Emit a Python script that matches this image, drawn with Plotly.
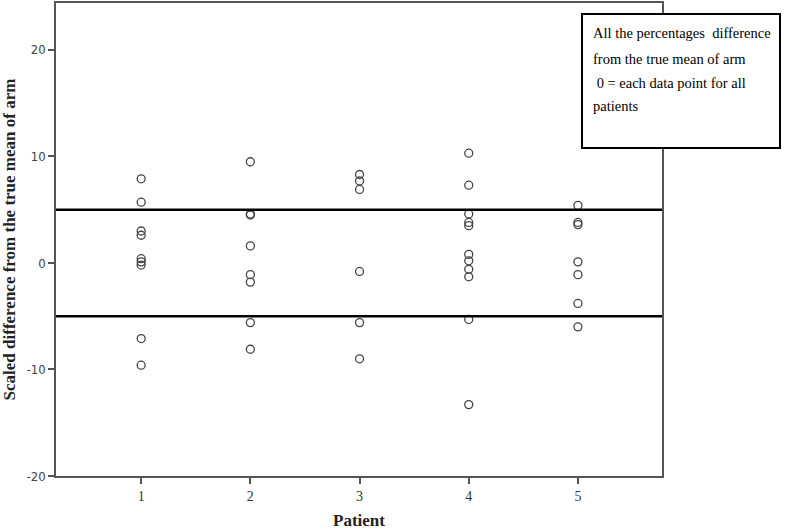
import plotly.graph_objects as go

patients = [1, 2, 3, 4, 5]
p1 = [7.9, 5.7, 3.0, 2.6, 0.4, 0.1, -0.2, -7.1, -9.6]
p2 = [9.5, 4.6, 4.5, 1.6, -1.1, -1.8, -5.6, -8.1]
p3 = [8.3, 7.7, 6.9, -0.8, -5.6, -9.0]
p4 = [10.3, 7.3, 4.6, 3.8, 3.5, 0.8, 0.2, -0.6, -1.3, -5.3, -13.3]
p5 = [5.4, 3.8, 3.6, 0.1, -1.1, -3.8, -6.0]
limits = [5, -5]
y_ticks = [-20, -10, 0, 10, 20]
y_tick_labels = ["-20", "-10", "0", "10", "20"]
note_lines = ["All the percentages  difference",
              "from the true mean of arm",
              "\u00a00 = each data point for all",
              "patients"]

series = [p1, p2, p3, p4, p5]
xs, ys = [], []
for pat, vals in zip(patients, series):
    xs += [pat] * len(vals)
    ys += vals

fig = go.Figure()
fig.add_trace(go.Scatter(
    x=xs, y=ys, mode="markers",
    marker=dict(symbol="circle-open", size=8, color="#444444", line=dict(width=1.3)),
    showlegend=False, hoverinfo="skip"))

for v in limits:
    fig.add_shape(type="line", xref="paper", x0=0, x1=1, yref="y", y0=v, y1=v,
                  line=dict(color="black", width=2.5))

axis_common = dict(showgrid=False, zeroline=False, showline=True, mirror=True,
                   linecolor="#555555", linewidth=1.5, ticks="outside",
                   ticklen=6, tickcolor="#555555", tickwidth=1.5, automargin=False)

fig.update_xaxes(range=[0.22, 5.77], tickvals=patients, **axis_common,
                 tickfont=dict(family="Liberation Serif", size=14, color="#333333"),
                 title=dict(text="<b>Patient</b>", standoff=12,
                            font=dict(family="Liberation Serif", size=17, color="#222222")))
fig.update_yaxes(range=[-20, 24.4], tickvals=y_ticks, ticktext=y_tick_labels, **axis_common,
                 tickfont=dict(family="DejaVu Sans Condensed", size=13, color="#444444"),
                 title=dict(text="<b>Scaled difference from the true mean of arm</b>", standoff=8,
                            font=dict(family="Liberation Serif", size=17, color="#222222")))

# Note box (pixel positions converted to paper coords of a 56..662 x 3..476 plot area)
def px_x(p):
    return (p - 56) / 606.0

def px_y(p):
    return (476 - p) / 473.0

fig.add_shape(type="rect", xref="paper", yref="paper",
              x0=px_x(582), x1=px_x(780), y0=px_y(148), y1=px_y(14),
              line=dict(color="black", width=2), fillcolor="white", layer="above")

line_y = [33, 59, 83, 106]
for txt, yy in zip(note_lines, line_y):
    fig.add_annotation(xref="paper", yref="paper", x=px_x(591), y=px_y(yy),
                       xanchor="left", yanchor="middle", showarrow=False,
                       text=txt, font=dict(family="Liberation Serif", size=14.5, color="black"))

fig.update_layout(width=787, height=531, plot_bgcolor="white", paper_bgcolor="white",
                  margin=dict(l=56, r=125, t=3, b=55))

fig.write_html("out.html", config={"displayModeBar": False},
               post_script="document.body.style.margin='0';document.body.style.padding='0';")
